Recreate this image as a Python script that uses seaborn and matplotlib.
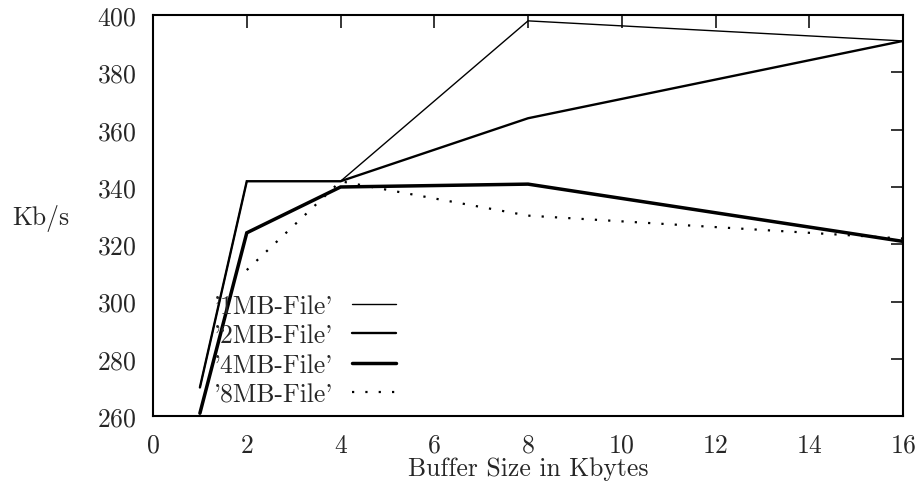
import numpy as np
import pandas as pd
import matplotlib
matplotlib.use("Agg")
import matplotlib.pyplot as plt
import seaborn as sns

buffer_kb = [1, 2, 4, 8, 16]
mb1 = [270, 342, 342, 398, 391]
mb2 = [270, 342, 342, 364, 391]
mb4 = [261, 324, 340, 341, 321]
mb8 = [np.nan, 311, 342, 330, 322]
labels = ["'1MB-File'", "'2MB-File'", "'4MB-File'", "'8MB-File'"]
xticks = [0, 2, 4, 6, 8, 10, 12, 14, 16]
yticks = [260, 280, 300, 320, 340, 360, 380, 400]

sns.set_style("white")
plt.rcParams["font.family"] = ["cmr10", "DejaVu Serif"]
plt.rcParams["axes.formatter.use_mathtext"] = True

FS = 18.5
fig = plt.figure(figsize=(9.18, 4.89), dpi=100)
ax = fig.add_axes([0.1667, 0.147, 0.8170, 0.820])

series = [mb1, mb2, mb4, mb8]
widths = [1.0, 1.7, 2.5, 1.6]
styles = ["-", "-", "-", (0, (1, 5))]
for vals, lab, lw, ls in zip(series, labels, widths, styles):
    df = pd.DataFrame({"x": buffer_kb, "y": vals}).dropna()
    sns.lineplot(data=df, x="x", y="y", ax=ax, color="black", lw=lw,
                 linestyle=ls, label=lab, solid_joinstyle="miter")

ax.set_xlim(0, 16)
ax.set_ylim(260, 400)
ax.set_xticks(xticks)
ax.set_yticks(yticks)
ax.tick_params(direction="in", length=9, width=1.3, top=True, right=True,
               labelsize=FS, pad=12)
for sp in ax.spines.values():
    sp.set_linewidth(1.5)
    sp.set_color("black")

ax.set_xlabel("Buffer Size in Kbytes", fontsize=FS, labelpad=0)
ax.set_ylabel("Kb/s", fontsize=FS, rotation=0, ha="center", va="center")
ax.yaxis.set_label_coords(-0.149, 0.496)

ax.legend(loc="upper right", bbox_to_anchor=(0.324, 0.305), frameon=False,
          markerfirst=False, fontsize=FS, handlelength=1.7, handletextpad=0.75,
          labelspacing=0.23, borderpad=0, borderaxespad=0)

fig.savefig("out.png", dpi=100)
